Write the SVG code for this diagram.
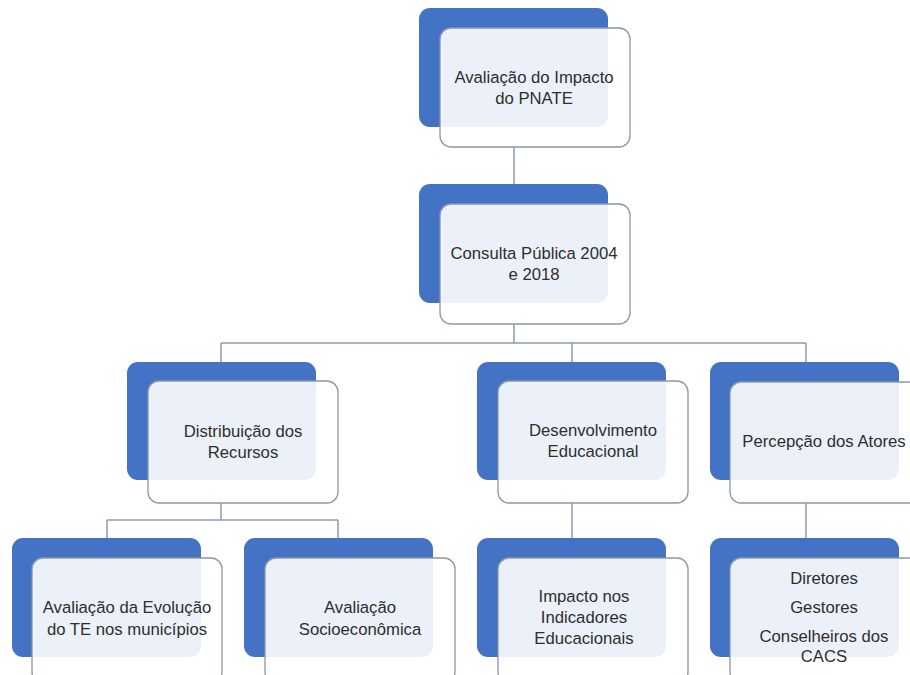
<svg xmlns="http://www.w3.org/2000/svg" width="910" height="675" viewBox="0 0 910 675">
<style>
.bk{fill:#4472c4}
.fr{fill:#ffffff;fill-opacity:0.9;stroke:#8c97a8;stroke-width:1.3}
.t{font-family:"Liberation Sans",Arial,sans-serif;font-size:16.7px;fill:#2e2e2e;text-anchor:middle}
.c{fill:none;stroke:#8c9bb3;stroke-width:1.5}
</style>
<rect width="910" height="675" fill="#fff"/>
<g id="connectors">
<path class="c" d="M514 147V184"/>
<path class="c" d="M514 324V343M221 343H806M221 343V362M572 343V362M806 343V362"/>
<path class="c" d="M221 503V520M107 520H338M107 520V538M338 520V538"/>
<path class="c" d="M572 503V538"/>
<path class="c" d="M806 503V538"/>
</g>
<g id="n1"><rect class="bk" x="419" y="8" width="189" height="119" rx="11"/><rect class="fr" x="440" y="28" width="190" height="119" rx="11"/>
<text class="t" x="534" y="83">Avaliação do Impacto</text><text class="t" x="534" y="104">do PNATE</text></g>
<g id="n2"><rect class="bk" x="419" y="184" width="189" height="119" rx="11"/><rect class="fr" x="440" y="204" width="190" height="120" rx="11"/>
<text class="t" x="534" y="259">Consulta Pública 2004</text><text class="t" x="534" y="280">e 2018</text></g>
<g id="n3"><rect class="bk" x="127" y="362" width="189" height="118" rx="11"/><rect class="fr" x="148" y="381" width="190" height="122" rx="11"/>
<text class="t" x="243" y="437">Distribuição dos</text><text class="t" x="243" y="458">Recursos</text></g>
<g id="n4"><rect class="bk" x="477" y="362" width="189" height="118" rx="11"/><rect class="fr" x="498" y="381" width="190" height="122" rx="11"/>
<text class="t" x="593" y="436">Desenvolvimento</text><text class="t" x="593" y="457">Educacional</text></g>
<g id="n5"><rect class="bk" x="710" y="362" width="189" height="118" rx="11"/><rect class="fr" x="730" y="382" width="190" height="121" rx="11"/>
<text class="t" x="824" y="447">Percepção dos Atores</text></g>
<g id="n6"><rect class="bk" x="12" y="538" width="189" height="119" rx="11"/><rect class="fr" x="32" y="558" width="190" height="125" rx="11"/>
<text class="t" x="127" y="613">Avaliação da Evolução</text><text class="t" x="127" y="635">do TE nos municípios</text></g>
<g id="n7"><rect class="bk" x="244" y="538" width="189" height="119" rx="11"/><rect class="fr" x="265" y="558" width="190" height="125" rx="11"/>
<text class="t" x="360" y="613">Avaliação</text><text class="t" x="360" y="635">Socioeconômica</text></g>
<g id="n8"><rect class="bk" x="477" y="538" width="189" height="119" rx="11"/><rect class="fr" x="498" y="558" width="190" height="125" rx="11"/>
<text class="t" x="584" y="602">Impacto nos</text><text class="t" x="584" y="623">Indicadores</text><text class="t" x="584" y="644">Educacionais</text></g>
<g id="n9"><rect class="bk" x="710" y="538" width="189" height="119" rx="11"/><rect class="fr" x="730" y="558" width="190" height="125" rx="11"/>
<text class="t" x="824" y="584">Diretores</text><text class="t" x="824" y="613">Gestores</text><text class="t" x="824" y="642">Conselheiros dos</text><text class="t" x="824" y="662">CACS</text></g>
</svg>
